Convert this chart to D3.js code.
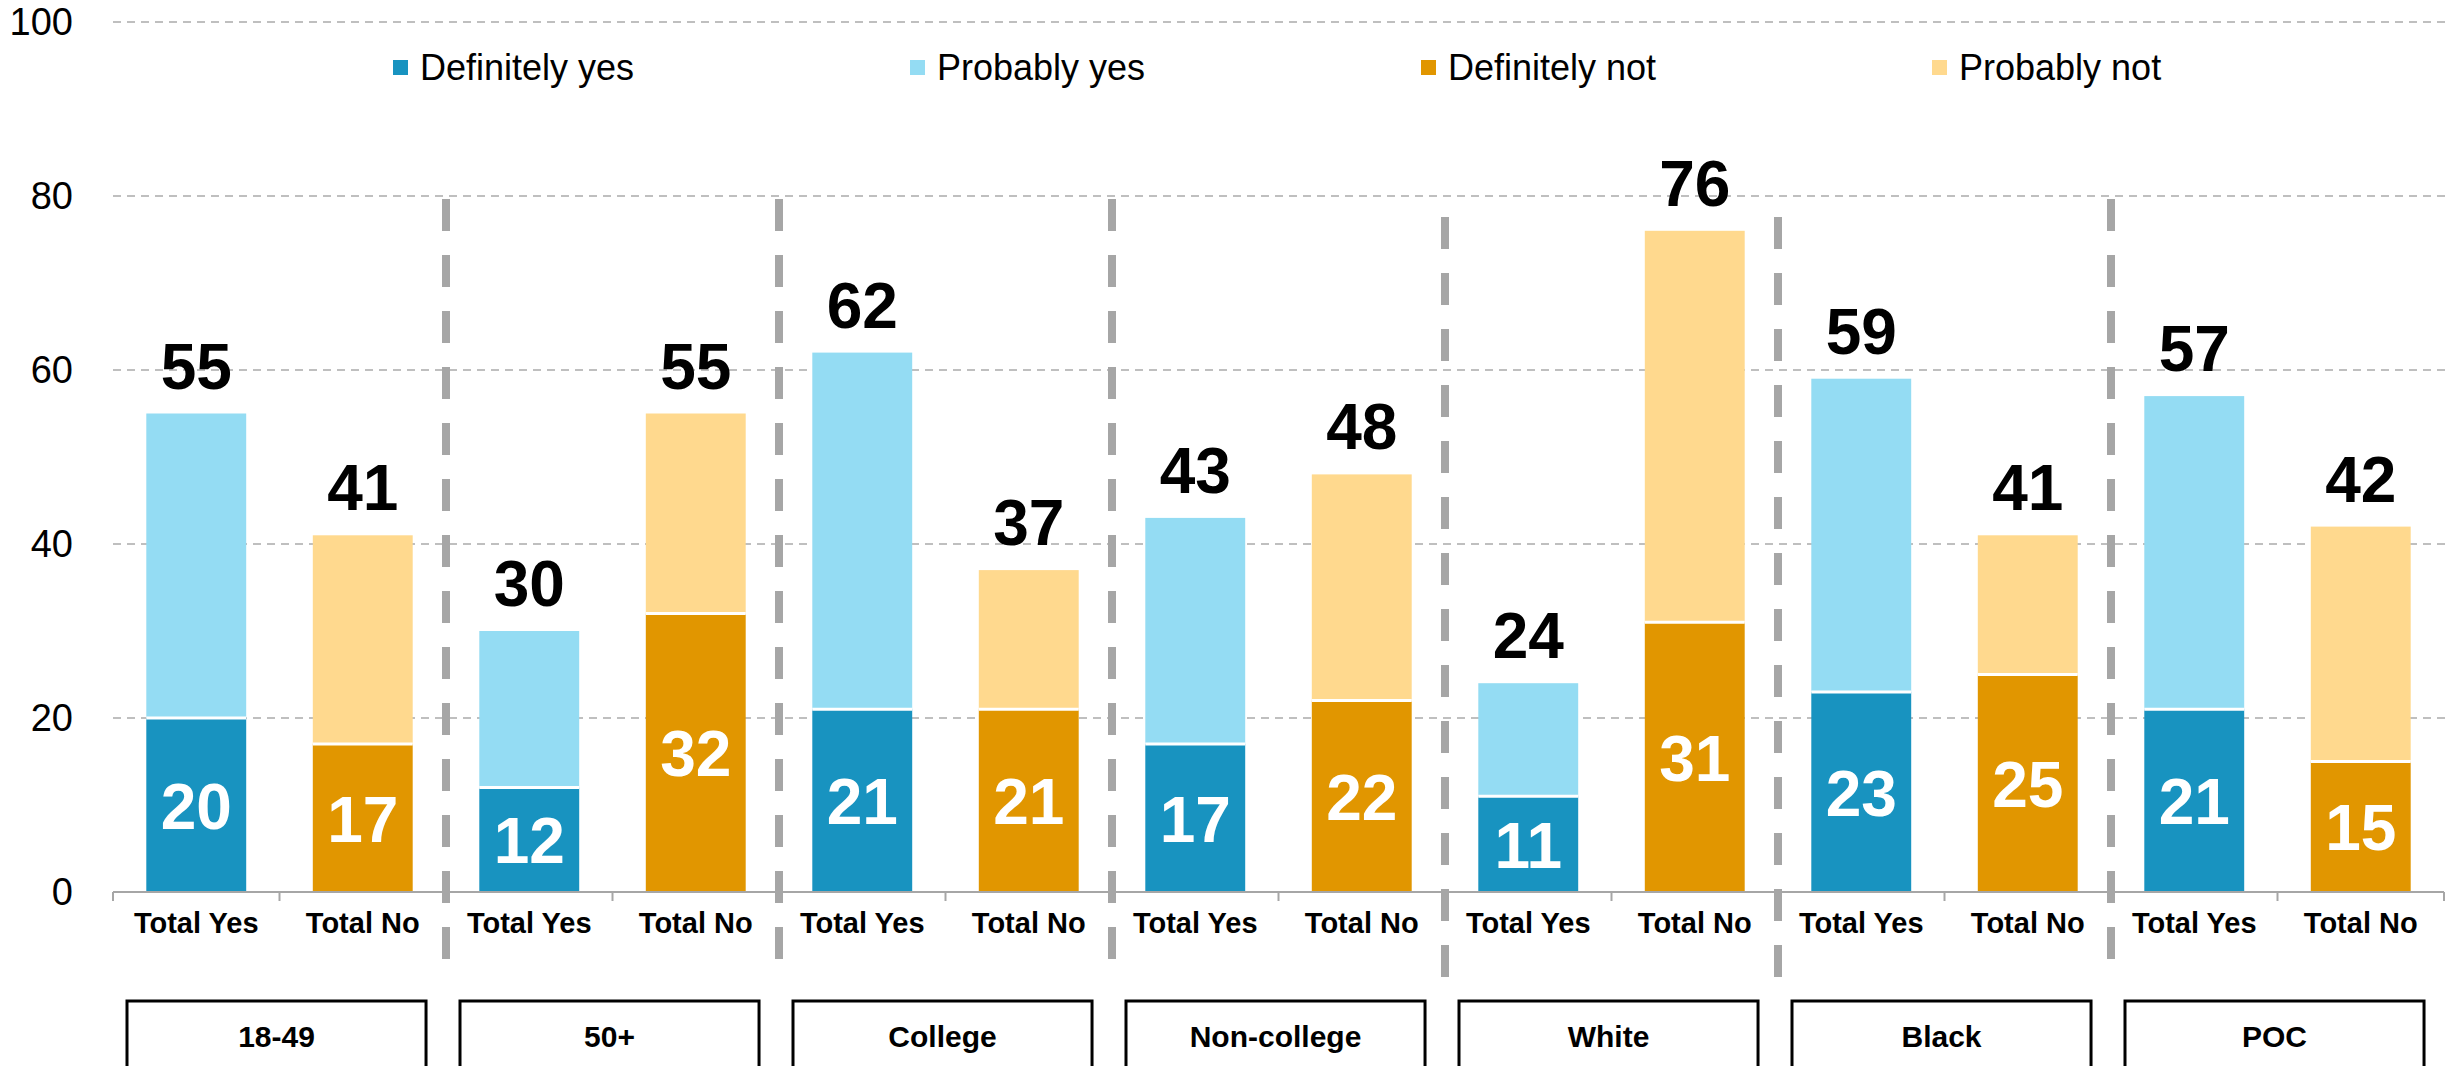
<!DOCTYPE html>
<html>
<head>
<meta charset="utf-8">
<script src="https://cdn.jsdelivr.net/npm/d3@7"></script>
<style>
  html, body { margin: 0; padding: 0; background: #ffffff; }
  svg { display: block; font-family: "Liberation Sans", Arial, sans-serif; }
</style>
</head>
<body>
<svg id="chart" width="2453" height="1066"></svg>
<script>
// ---- data ----
const groups = ["18-49", "50+", "College", "Non-college", "White", "Black", "POC"];
const barKinds = ["Total Yes", "Total No"];
const definitelyYes = [20, 12, 21, 17, 11, 23, 21];
const probablyYes   = [35, 18, 41, 26, 13, 36, 36];
const definitelyNot = [17, 32, 21, 22, 31, 25, 15];
const probablyNot   = [24, 23, 16, 26, 45, 16, 27];
const seriesNames = ["Definitely yes", "Probably yes", "Definitely not", "Probably not"];
const yTicks = [0, 20, 40, 60, 80, 100];

// ---- style ----
const colors = {
  "Definitely yes": "#1893C0",
  "Probably yes": "#94DCF3",
  "Definitely not": "#E19600",
  "Probably not": "#FFD98E"
};

const svg = d3.select("#chart");
const plotLeft = 113, plotRight = 2444;

// build rows from arrays
const rows = [];
groups.forEach((g, i) => {
  rows.push({ key: g + "|Total Yes", group: g, kind: "Total Yes",
    low: definitelyYes[i], high: probablyYes[i],
    lowName: "Definitely yes", highName: "Probably yes" });
  rows.push({ key: g + "|Total No", group: g, kind: "Total No",
    low: definitelyNot[i], high: probablyNot[i],
    lowName: "Definitely not", highName: "Probably not" });
});

const x = d3.scaleBand()
  .domain(rows.map(d => d.key))
  .range([plotLeft, plotRight])
  .paddingInner(0.4)
  .paddingOuter(0.2);

const xStep = d3.scaleBand()
  .domain(rows.map(d => d.key))
  .range([plotLeft, plotRight])
  .padding(0);

const gx = d3.scaleBand()
  .domain(groups)
  .range([plotLeft, plotRight])
  .padding(0);

const y = d3.scaleLinear().domain([0, 100]).range([892, 22]);

// ---- gridlines ----
svg.append("g").selectAll("line")
  .data(yTicks.filter(t => t > 0))
  .join("line")
  .attr("x1", plotLeft).attr("x2", 2448)
  .attr("y1", d => y(d)).attr("y2", d => y(d))
  .attr("stroke", "#BFBFBF")
  .attr("stroke-width", 2)
  .attr("stroke-dasharray", "8,6");

// ---- y axis ----
const yAxis = d3.axisLeft(y).tickValues(yTicks).tickSize(0).tickPadding(40).tickFormat(d3.format("d"));
const yG = svg.append("g").attr("transform", `translate(${plotLeft},0)`).call(yAxis);
yG.select(".domain").remove();
yG.selectAll("text")
  .attr("font-size", 38)
  .attr("fill", "#000")
  .attr("font-family", "'Liberation Sans', Arial, sans-serif");

// ---- group separators ----
const sepStart = { "White": 217, "Black": 217 };
svg.append("g").selectAll("line")
  .data(groups.slice(1))
  .join("line")
  .attr("x1", d => gx(d)).attr("x2", d => gx(d))
  .attr("y1", d => sepStart[d] || 199).attr("y2", 978)
  .attr("stroke", "#A6A6A6")
  .attr("stroke-width", 8)
  .attr("stroke-dasharray", "32,24");

// ---- bars ----
const barG = svg.append("g");
const bars = barG.selectAll("g.bar").data(rows).join("g").attr("class", "bar");

bars.append("rect")
  .attr("x", d => x(d.key))
  .attr("width", x.bandwidth())
  .attr("y", d => y(d.low))
  .attr("height", d => y(0) - y(d.low))
  .attr("fill", d => colors[d.lowName]);

bars.append("rect")
  .attr("x", d => x(d.key))
  .attr("width", x.bandwidth())
  .attr("y", d => y(d.low + d.high))
  .attr("height", d => y(d.low) - y(d.low + d.high))
  .attr("fill", d => colors[d.highName]);

// white divider between segments
bars.append("line")
  .attr("x1", d => x(d.key)).attr("x2", d => x(d.key) + x.bandwidth())
  .attr("y1", d => y(d.low)).attr("y2", d => y(d.low))
  .attr("stroke", "#ffffff")
  .attr("stroke-width", 3);

// inner labels
bars.append("text")
  .attr("x", d => x(d.key) + x.bandwidth() / 2)
  .attr("y", d => (y(0) + y(d.low)) / 2)
  .attr("dy", "0.37em")
  .attr("text-anchor", "middle")
  .attr("font-size", 64)
  .attr("font-weight", "bold")
  .attr("fill", "#ffffff")
  .text(d => d.low);

// total labels
bars.append("text")
  .attr("x", d => x(d.key) + x.bandwidth() / 2)
  .attr("y", d => y(d.low + d.high) - 25)
  .attr("text-anchor", "middle")
  .attr("font-size", 64)
  .attr("font-weight", "bold")
  .attr("fill", "#000000")
  .text(d => d.low + d.high);

// ---- x axis ----
const xAxis = d3.axisBottom(x).tickSize(0).tickPadding(20).tickFormat(k => k.split("|")[1]);
const xG = svg.append("g").attr("transform", `translate(0,${y(0)})`).call(xAxis);
xG.select(".domain").remove();
xG.selectAll("text")
  .attr("font-size", 29)
  .attr("font-weight", "bold")
  .attr("fill", "#000")
  .attr("font-family", "'Liberation Sans', Arial, sans-serif");

svg.append("line")
  .attr("x1", plotLeft).attr("x2", plotRight)
  .attr("y1", y(0)).attr("y2", y(0))
  .attr("stroke", "#A6A6A6").attr("stroke-width", 2);

const boundaries = rows.map(d => xStep(d.key)).concat([plotRight]);
svg.append("g").selectAll("line")
  .data(boundaries)
  .join("line")
  .attr("x1", d => d).attr("x2", d => d)
  .attr("y1", y(0)).attr("y2", y(0) + 9)
  .attr("stroke", "#A6A6A6").attr("stroke-width", 2);

// ---- group boxes ----
const boxG = svg.append("g").selectAll("g").data(groups).join("g");
boxG.append("rect")
  .attr("x", d => gx(d) + 14)
  .attr("y", 1001)
  .attr("width", gx.bandwidth() * 0.898)
  .attr("height", 120)
  .attr("fill", "#ffffff")
  .attr("stroke", "#000")
  .attr("stroke-width", 3);
boxG.append("text")
  .attr("x", d => gx(d) + 14 + gx.bandwidth() * 0.898 / 2)
  .attr("y", 1047)
  .attr("text-anchor", "middle")
  .attr("font-size", 30)
  .attr("font-weight", "bold")
  .attr("fill", "#000")
  .text(d => d);

// ---- legend ----
const legendX = [393, 910, 1421, 1932];
const leg = svg.append("g").selectAll("g").data(seriesNames).join("g")
  .attr("transform", (d, i) => `translate(${legendX[i]},60)`);
leg.append("rect")
  .attr("width", 15).attr("height", 15)
  .attr("fill", d => colors[d]);
leg.append("text")
  .attr("x", 27).attr("y", 7.5)
  .attr("dy", "0.35em")
  .attr("font-size", 36)
  .attr("fill", "#000")
  .text(d => d);
</script>
</body>
</html>
